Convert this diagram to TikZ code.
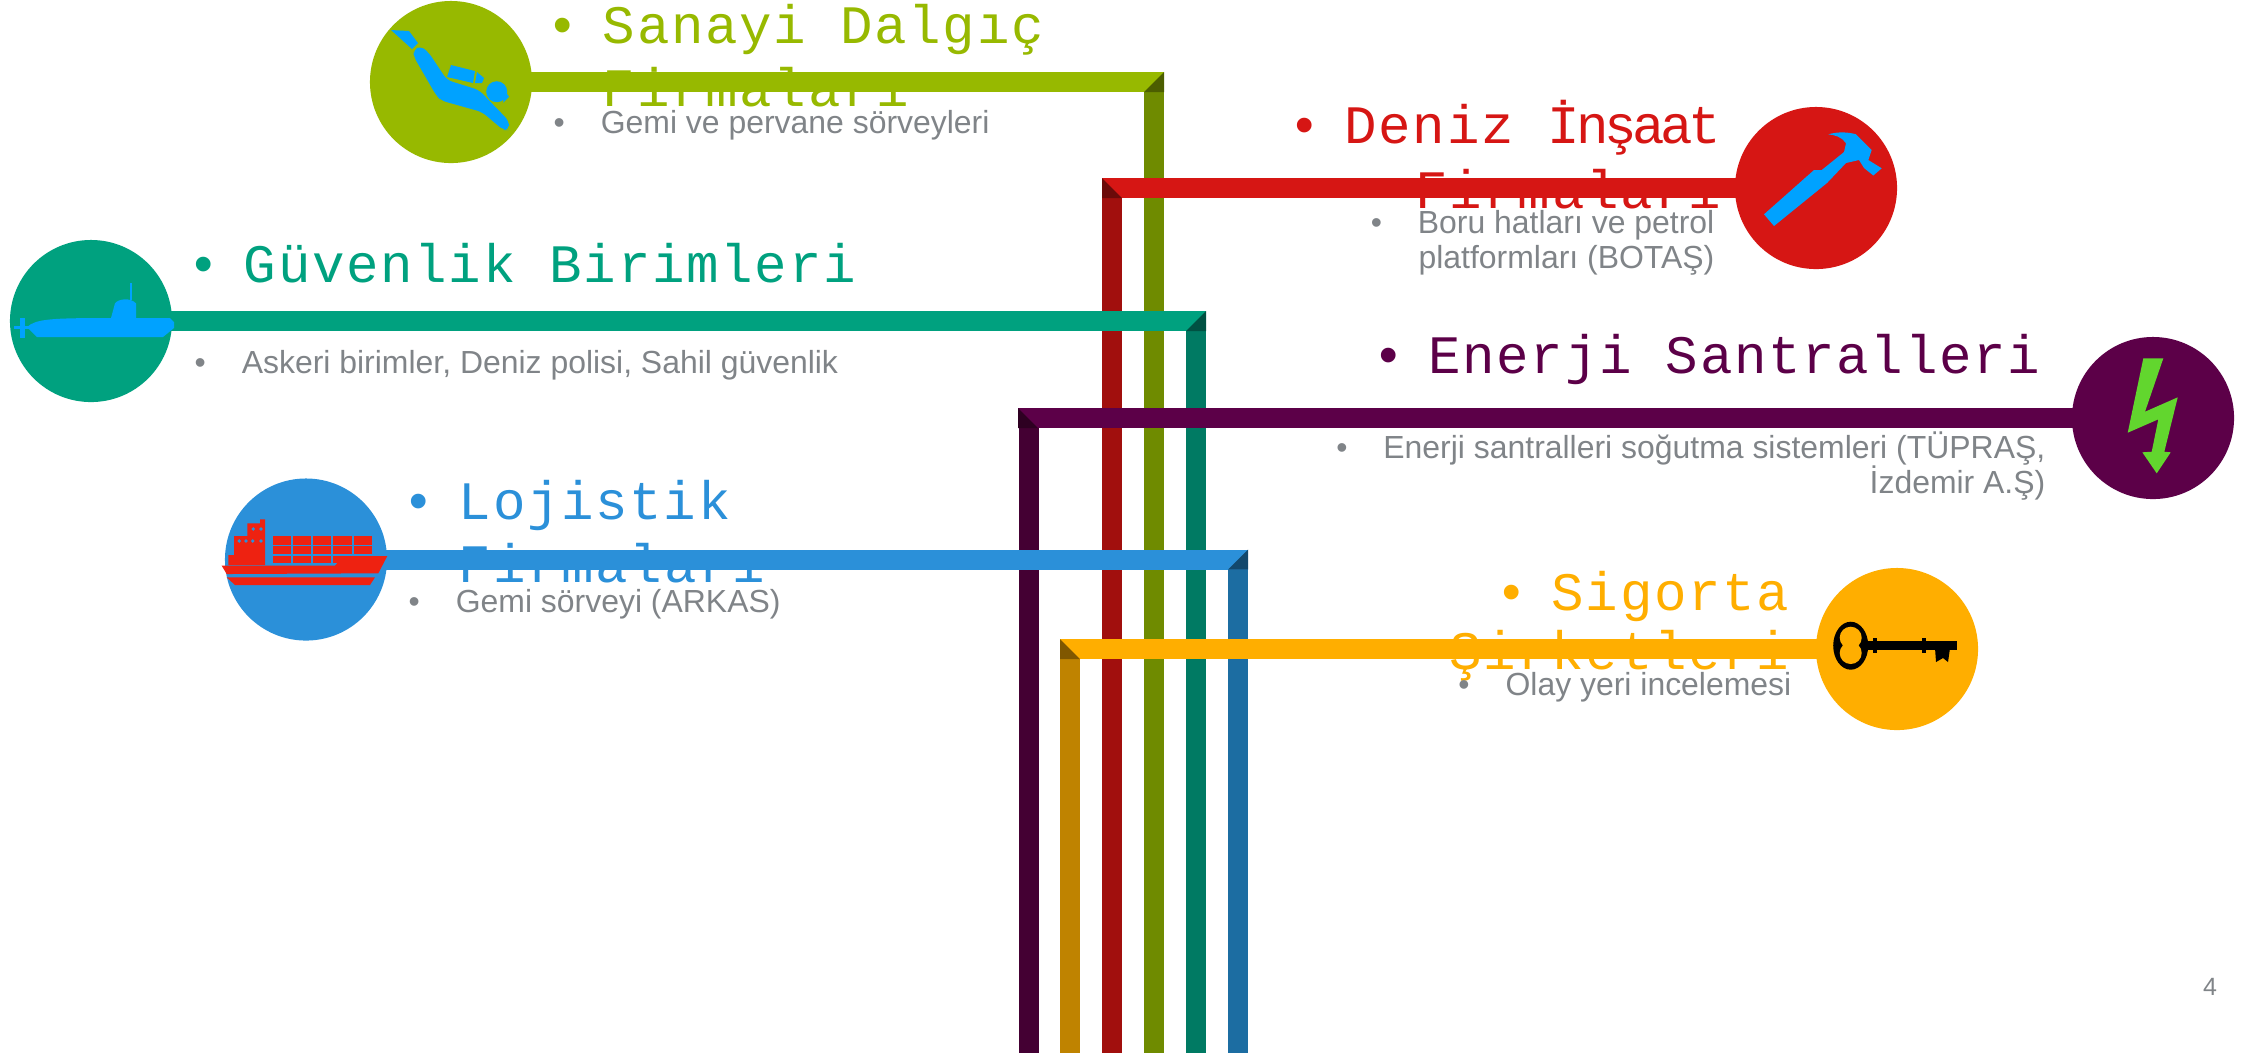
\documentclass[tikz,border=0pt]{standalone}
\usepackage{fontspec}
\setmainfont{Liberation Sans}
\newfontfamily\headfont[LetterSpace=3.1]{Liberation Mono}
\usetikzlibrary{positioning}

\definecolor{olivemain}{HTML}{97B900}
\definecolor{oliveside}{HTML}{6F8B00}
\definecolor{olivetip}{HTML}{4C5E00}
\definecolor{redmain}{HTML}{D61614}
\definecolor{redside}{HTML}{A10F0D}
\definecolor{redtip}{HTML}{6B0A09}
\definecolor{tealmain}{HTML}{00A17F}
\definecolor{tealside}{HTML}{007A63}
\definecolor{tealtip}{HTML}{005142}
\definecolor{plummain}{HTML}{5C0048}
\definecolor{plumside}{HTML}{440033}
\definecolor{plumtip}{HTML}{2E0022}
\definecolor{bluemain}{HTML}{2B90D9}
\definecolor{blueside}{HTML}{1C6DA2}
\definecolor{bluetip}{HTML}{13486C}
\definecolor{ambermain}{HTML}{FFAE00}
\definecolor{amberside}{HTML}{BF8300}
\definecolor{ambertip}{HTML}{805700}
\definecolor{notegrey}{HTML}{808488}
\definecolor{iconblue}{HTML}{00A2FF}
\definecolor{iconred}{HTML}{EE2211}
\definecolor{icongreen}{HTML}{62D62E}

\newcommand{\headbul}{\makebox[16pt][l]{•}}
\newcommand{\notebul}{\makebox[13.4pt][l]{•}}

\begin{document}
\begin{tikzpicture}[
                x=0.01cm, y=-0.01cm,
                badge/.style={circle, minimum size=1.62cm, inner sep=0pt},
                bar/.style={line width=2mm, shorten <=-2pt},
                column/.style={line width=2mm},
                head/.style={inner sep=0pt, text width=8cm, font=\headfont\fontsize{15.4}{18}\selectfont},
                note/.style={inner sep=0pt, text width=9cm, text=notegrey, font=\fontsize{9.08}{9.96}\selectfont}
            ]
            \useasboundingbox (0,0) rectangle (2252,1053);

            % Headings
            \node[head, text=olivemain, align=flush left, anchor=base west] (diver-head) at (546,43) {\headbul Sanayi Dalgıç\\\hspace*{16pt}Firmaları};
            \node[head, text=redmain, align=flush right, anchor=base east] (hammer-head) at (1722,143) {\headbul Deniz {\addfontfeature{LetterSpace=-8}İnşaat}\\[0.6pt]Firmaları};
            \node[head, text=tealmain, align=flush left, anchor=base west] (sub-head) at (187,282) {\headbul Güvenlik Birimleri};
            \node[head, text=plummain, align=flush right, anchor=base east] (bolt-head) at (2041,373) {\headbul Enerji Santralleri};
            \node[head, text=bluemain, align=flush left, anchor=base west] (ship-head) at (402,519) {\headbul Lojistik\\\hspace*{16pt}Firmaları};
            \node[head, text=ambermain, align=flush right, anchor=base east] (key-head) at (1790,610) {\headbul Sigorta\\[-1pt]Şirketleri};

            % Notes
            \node[note, align=flush left, anchor=base west] (diver-note) at (553,133) {\notebul Gemi ve pervane sörveyleri};
            \node[note, align=flush right, anchor=base east] (hammer-note) at (1715,233) {\notebul Boru hatları ve petrol\\platformları (BOTAŞ)};
            \node[note, align=flush left, anchor=base west] (sub-note) at (194,373) {\notebul Askeri birimler, Deniz polisi, Sahil güvenlik};
            \node[note, align=flush right, anchor=base east] (bolt-note) at (2046,458) {\notebul Enerji santralleri soğutma sistemleri (TÜPRAŞ,\\İzdemir A.Ş)};
            \node[note, align=flush left, anchor=base west] (ship-note) at (408,612) {\notebul Gemi sörveyi (ARKAS)};
            \node[note, align=flush right, anchor=base east] (key-note) at (1792,695) {\notebul Olay yeri incelemesi};

            \node[inner sep=0pt, text=notegrey, font=\fontsize{7.1}{8}\selectfont, anchor=base] (page) at (2210,995) {4};

            % Badges
            \node[badge, fill=olivemain] (diver) at (451,82) {};
            \node[badge, fill=redmain] (hammer) at (1816,188) {};
            \node[badge, fill=tealmain] (sub) at (91,321) {};
            \node[badge, fill=plummain] (bolt) at (2153,418) {};
            \node[badge, fill=bluemain] (ship) at (306,559.5) {};
            \node[badge, fill=ambermain] (key) at (1897,649) {};

            % Where the bars end and the columns run
            \coordinate (diver-end) at (1164,82);
            \coordinate (diver-top) at (1154,92);
            \coordinate (diver-foot) at (1154,1053);
            \coordinate (hammer-end) at (1102,188);
            \coordinate (hammer-top) at (1112,198);
            \coordinate (hammer-foot) at (1112,1053);
            \coordinate (sub-end) at (1206,321);
            \coordinate (sub-top) at (1196,331);
            \coordinate (sub-foot) at (1196,1053);
            \coordinate (bolt-end) at (1018,418);
            \coordinate (bolt-top) at (1028.5,428);
            \coordinate (bolt-foot) at (1028.5,1053);
            \coordinate (ship-end) at (1248,559.5);
            \coordinate (ship-top) at (1238,569.5);
            \coordinate (ship-foot) at (1238,1053);
            \coordinate (key-end) at (1060,649);
            \coordinate (key-top) at (1070,659);
            \coordinate (key-foot) at (1070,1053);

            % Columns
            \foreach \b/\c in {diver/oliveside,hammer/redside,sub/tealside,bolt/plumside,ship/blueside,key/amberside}
            \draw[column, \c] (\b-top) -- (\b-foot);

            % Bars
            \foreach \b/\c in {diver/olivemain,hammer/redmain,sub/tealmain,bolt/plummain,ship/bluemain,key/ambermain}
            \draw[bar, \c] (\b) -- (\b-end);

            % Corners
            \fill[olivetip] (1164,72) -- (1164,92) -- (1144,92) -- cycle;
            \fill[redtip] (1102,178) -- (1102,198) -- (1122,198) -- cycle;
            \fill[tealtip] (1206,311) -- (1206,331) -- (1186,331) -- cycle;
            \fill[plumtip] (1018,408) -- (1018,428) -- (1038,428) -- cycle;
            \fill[bluetip] (1248,549.5) -- (1248,569.5) -- (1228,569.5) -- cycle;
            \fill[ambertip] (1060,639) -- (1060,659) -- (1080,659) -- cycle;

            % Diver
            \fill[iconblue] (391,30) -- (409,31) -- (418,43) -- (412,49) -- cycle;
            \fill[iconblue, rounded corners=1.5pt] (414,57) -- (436,95) -- (441,100.5) -- (482,112) -- (503.3,130) -- (509,130) -- (509,121) -- (479,90) -- (447,80) -- (429,53) -- (421,46) -- (413,50) -- cycle;
            \fill[iconblue] (451,65) -- (475,71) -- (473,83) -- (447,77) -- cycle;
            \fill[iconblue] (477,72) -- (484,78) -- (482,83) -- (475,83) -- cycle;
            \fill[iconblue] (496.7,91.7) circle (10.5);
            \fill[iconblue] (503,88) -- (509,96.7) -- (503.3,102.7) -- cycle;

            % Hammer
            \fill[iconblue] (1764,214.3) -- (1814,170) -- (1821.7,170) -- (1844,152) -- (1846,143.3) .. controls (1842,137) and (1835,135) .. (1828.3,134.3) .. controls (1838,131.5) and (1848,132) .. (1856,134.3) -- (1871.7,150) -- (1868.3,160) -- (1881.7,168.3) -- (1873.3,175.5) -- (1864,168) -- (1859,160) -- (1846,163) -- (1827,183) -- (1774,226) -- cycle;

            % Submarine
            \fill[iconblue] (27,327) .. controls (36,319) and (50,318) .. (111,318) -- (115,303.3) .. controls (118,299) and (130,297) .. (136,303.3) -- (136,318) -- (170,318) -- (174,322) -- (174,328) -- (163,337) -- (37,337) -- cycle;
            \fill[iconblue] (130,283) rectangle (132,300);
            \fill[iconblue] (14,325.5) rectangle (30,328.5);
            \fill[iconblue] (20,318) rectangle (24.5,338);

            % Ship
            \fill[iconred] (221.7,565.7) -- (335,565.7) -- (343.3,556) -- (387.3,556) -- (378.3,573.3) -- (226.7,574) -- cycle;
            \fill[iconred] (226.7,577.3) -- (375,577.3) -- (370,585) -- (235,585) -- cycle;
            \fill[iconred] (228.3,555) -- (234,555) -- (234,536) -- (247.3,536) -- (247.3,523.3) -- (260,523.3) -- (260,519.3) -- (265,519.3) -- (265,565) -- (228.3,565) -- cycle;
            \foreach \i in {0,1,2,3,4}
            \foreach \a/\e in {536/544.5,546/553.5,555.5/563}
            \fill[iconred] (272.7+20.2*\i,\a) rectangle (291+20.2*\i,\e);
            \foreach \x/\y in {239.3/541,246/541,252.7/541,261/541,253.3/529,261/529}
            \fill[bluemain] (\x,\y) circle (1.9);

            % Bolt
            \fill[icongreen] (2143.3,358.3) -- (2163.3,358.3) -- (2145,411.7) -- (2177.7,397.3) -- (2164.3,451.7) -- (2170.7,452.3) -- (2156.7,473.3) -- (2142.3,452.3) -- (2151.7,451.7) -- (2158.3,419.3) -- (2127.7,432.7) -- cycle;

            % Key
            \fill[black] (1850.7,645.7) ellipse (17.5 and 24);
            \fill[ambermain] (1850.7,637.7) circle (11);
            \fill[ambermain] (1850.7,653) circle (11);
            \fill[black] (1866,640.5) rectangle (1957,649.5);
            \fill[black] (1873,638) rectangle (1877,653);
            \fill[black] (1922,638) rectangle (1926,653);
            \fill[black] (1935,648) -- (1950,648) -- (1948,662) -- (1943,658) -- (1936,662) -- cycle;
        \end{tikzpicture}
\end{document}
